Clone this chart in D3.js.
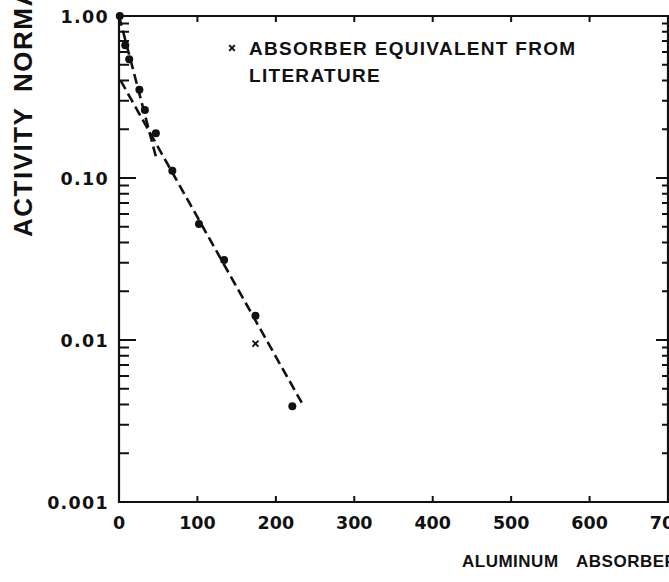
<!DOCTYPE html>
<html>
<head>
<meta charset="utf-8">
<script src="https://cdn.jsdelivr.net/npm/d3@7/dist/d3.min.js"></script>
<style>
  html, body { margin: 0; padding: 0; background: #fff; overflow: hidden; }
  svg { display: block; }
  text { font-family: "Liberation Sans", Arial, sans-serif; font-weight: bold; fill: #111; }
  .num { font-family: "DejaVu Sans", sans-serif; font-weight: bold; }
</style>
</head>
<body>
<svg id="chart" width="669" height="582"></svg>
<script>
// ---- data ----
const thickness = [1, 8, 13, 26, 33, 47, 68, 102, 134, 174, 221];          // mg/cm^2 aluminum
const activity  = [1.0, 0.66, 0.54, 0.35, 0.263, 0.189, 0.111, 0.052, 0.0312, 0.0141, 0.0039];
const literatureX = [174];
const literatureY = [0.0095];
const steepFitX = [0, 48];
const steepFitY = [1.0, 0.13];
const shallowFitX = [2, 233];
const shallowFitY = [0.40, 0.0041];
const xTicks = [0, 100, 200, 300, 400, 500, 600, 700];
const yTicks = [1, 0.1, 0.01, 0.001];
const yTickLabels = ["1.00", "0.10", "0.01", "0.001"];
const legendLines = ["ABSORBER EQUIVALENT FROM", "LITERATURE"];
const xTitle = "ALUMINUM\u2003ABSORBER";
const yTitle = "ACTIVITY\u2002NORMALIZED";

// ---- layout ----
const L = 119, R = 668, T = 16, B = 502;
const svg = d3.select("#chart");
const x = d3.scaleLinear().domain([0, 700]).range([L, R]);
const y = d3.scaleLog().domain([0.001, 1]).range([B, T]);

const minorY = [];
for (let e = -3; e < 0; e++) for (let m = 2; m <= 9; m++) minorY.push(m * Math.pow(10, e));
const xInner = xTicks.filter(d => d > 0 && d < 700);

// ticks drawn from the scales (all pointing inward), as one path
let td = "";
yTicks.forEach(v => { td += `M${L},${y(v)}h17`; td += `M${R},${y(v)}h-12`; });
minorY.forEach(v => { td += `M${L},${y(v)}h10`; td += `M${R},${y(v)}h-6`; });
xInner.forEach(v => { td += `M${x(v)},${B}v-6`; td += `M${x(v)},${T}v6`; });
svg.append("path").attr("d", td)
  .attr("fill", "none").attr("stroke", "#111").attr("stroke-width", 2);

// frame
svg.append("path")
  .attr("d", `M${L},${T}H${R}V${B}H${L}Z`)
  .attr("fill", "none").attr("stroke", "#111").attr("stroke-width", 2.2);

// y tick labels
svg.append("g").selectAll("text").data(yTicks).join("text")
  .attr("class", "num")
  .attr("x", 109).attr("y", d => y(d) + 7)
  .attr("text-anchor", "end")
  .attr("font-size", 17.5).attr("letter-spacing", 1.3)
  .text((d, i) => yTickLabels[i]);

// x tick labels
svg.append("g").selectAll("text").data(xTicks).join("text")
  .attr("class", "num")
  .attr("x", d => x(d)).attr("y", 529)
  .attr("text-anchor", "middle")
  .attr("font-size", 17.5)
  .text(d => d);

// axis titles
svg.append("text").attr("x", 462).attr("y", 567)
  .attr("font-size", 17).attr("letter-spacing", 0.5)
  .text(xTitle);
svg.append("text").attr("transform", "translate(32,237) rotate(-90)")
  .attr("font-size", 26).attr("letter-spacing", 1.5)
  .text(yTitle);

// fitted dashed lines
const line = d3.line().x(d => x(d[0])).y(d => y(d[1]));
[[steepFitX, steepFitY], [shallowFitX, shallowFitY]].forEach(([xs, ys]) => {
  svg.append("path").datum(xs.map((v, i) => [v, ys[i]]))
    .attr("d", line).attr("fill", "none").attr("stroke", "#111")
    .attr("stroke-width", 2.6).attr("stroke-dasharray", "10,5");
});

// measured points
svg.append("g").selectAll("circle").data(thickness).join("circle")
  .attr("cx", d => x(d)).attr("cy", (d, i) => y(activity[i]))
  .attr("r", 4).attr("fill", "#111");

// literature points (x marks)
function drawX(g, cx, cy, s) {
  g.append("path")
    .attr("d", `M${cx - s},${cy - s}L${cx + s},${cy + s}M${cx - s},${cy + s}L${cx + s},${cy - s}`)
    .attr("stroke", "#111").attr("stroke-width", 1.9).attr("fill", "none");
}
literatureX.forEach((v, i) => drawX(svg, x(v), y(literatureY[i]), 3));

// legend
drawX(svg, 232, 48, 2.8);
svg.append("g").selectAll("text").data(legendLines).join("text")
  .attr("x", 249).attr("y", (d, i) => 55 + i * 27)
  .attr("font-size", 19).attr("letter-spacing", 1.3)
  .text(d => d);
</script>
</body>
</html>
